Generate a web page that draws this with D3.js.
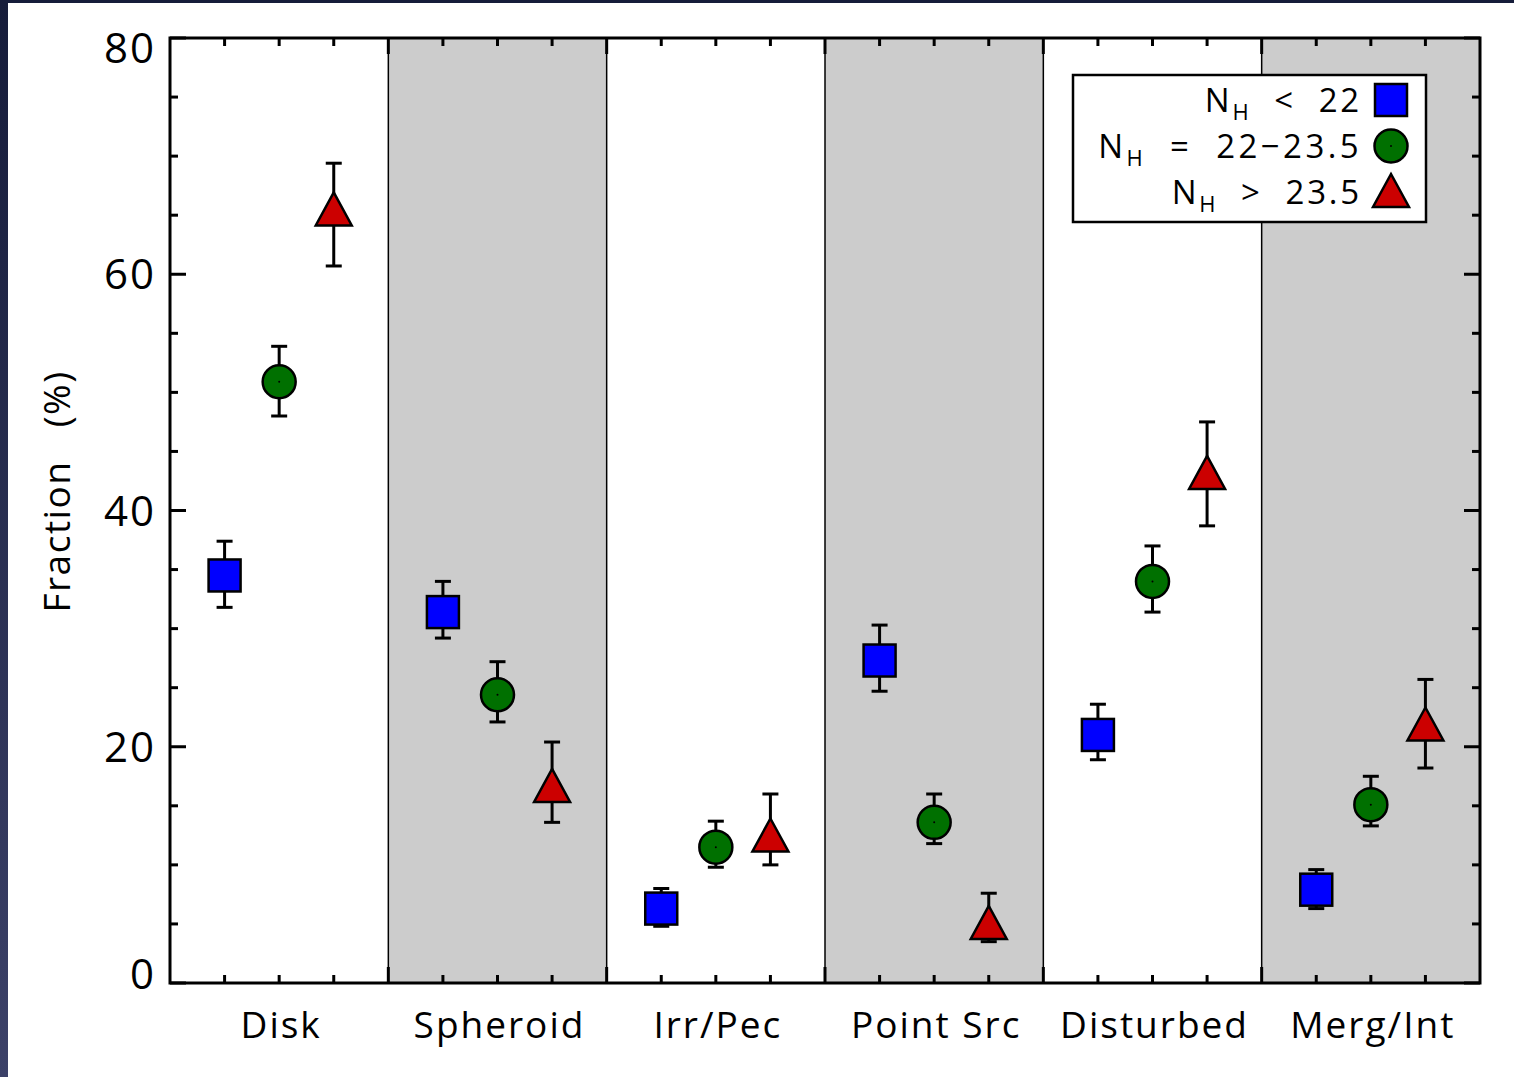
<!DOCTYPE html>
<html>
<head>
<meta charset="utf-8">
<script src="https://cdn.jsdelivr.net/npm/d3@7"></script>
<style>
  body { margin: 0; background: #fff; }
  svg text { font-family: "Open Sans", sans-serif; fill: #000; white-space: pre; }
</style>
</head>
<body>
<div id="chart"></div>
<script>
// categories and series (fraction in %, lower / upper error)
var categories = ['Disk', 'Spheroid', 'Irr/Pec', 'Point Src', 'Disturbed', 'Merg/Int'];
var lowNH  = [34.5, 31.4, 6.3, 27.3, 21.0, 7.9];
var lowLo  = [31.8, 29.2, 4.8, 24.7, 18.9, 6.3];
var lowHi  = [37.4, 34.0, 8.0, 30.3, 23.6, 9.6];
var midNH  = [50.9, 24.4, 11.5, 13.6, 34.0, 15.1];
var midLo  = [48.0, 22.1, 9.8, 11.8, 31.4, 13.3];
var midHi  = [53.9, 27.2, 13.7, 16.0, 37.0, 17.5];
var highNH = [65.4, 16.6, 12.4, 5.0, 43.1, 21.8];
var highLo = [60.7, 13.6, 10.0, 3.5, 38.7, 18.2];
var highHi = [69.4, 20.4, 16.0, 7.6, 47.5, 25.7];
var yTicks = [0, 20, 40, 60, 80];
var seriesLabels = ['<  22', '=  22\u221223.5', '>  23.5'];

var W = 1514, H = 1077;
var margin = {left: 170, right: 34, top: 38, bottom: 94};

var svg = d3.select('#chart').append('svg')
  .attr('width', W).attr('height', H);

// dark page edge on the left / top
var grad = svg.append('defs').append('linearGradient')
  .attr('id', 'edge').attr('x1', 0).attr('y1', 0).attr('x2', 0).attr('y2', 1);
grad.append('stop').attr('offset', '0%').attr('stop-color', '#161c3a');
grad.append('stop').attr('offset', '100%').attr('stop-color', '#3c4168');
svg.append('rect').attr('x', 0).attr('y', 0).attr('width', 8).attr('height', H).attr('fill', 'url(#edge)');
svg.append('rect').attr('x', 0).attr('y', 0).attr('width', W).attr('height', 3).attr('fill', '#161c3a');

var x = d3.scaleBand().domain(categories)
  .range([margin.left, W - margin.right]).padding(0);
var y = d3.scaleLinear().domain([0, 80])
  .range([H - margin.bottom, margin.top]);

var bw = x.bandwidth();

// grey shading for every other category
svg.selectAll('.band').data(categories).enter()
  .append('rect')
  .attr('x', function(d) { return x(d); })
  .attr('y', y(80))
  .attr('width', bw)
  .attr('height', y(0) - y(80))
  .attr('fill', function(d, i) { return i % 2 ? '#cccccc' : '#ffffff'; });

// vertical separators
svg.selectAll('.sep').data(categories.slice(1)).enter()
  .append('line')
  .attr('x1', function(d) { return x(d); })
  .attr('x2', function(d) { return x(d); })
  .attr('y1', y(80)).attr('y2', y(0))
  .attr('stroke', '#000').attr('stroke-width', 1.5);

// axes (ticks drawn inward, mirrored on top and right)
var yMinor = d3.range(0, 81, 5);
function yTickLines(xPos, dir) {
  svg.append('g').selectAll('line').data(yMinor).enter()
    .append('line')
    .attr('x1', xPos)
    .attr('x2', function(d) { return xPos + dir * (d % 20 ? 8 : 16); })
    .attr('y1', function(d) { return y(d); })
    .attr('y2', function(d) { return y(d); })
    .attr('stroke', '#000').attr('stroke-width', 3);
}
yTickLines(x.range()[0], 1);
yTickLines(x.range()[1], -1);

var xMinor = [];
categories.forEach(function(c, i) {
  [0.25, 0.5, 0.75].forEach(function(f) { xMinor.push({pos: x(c) + f * bw, major: false}); });
  if (i > 0) xMinor.push({pos: x(c), major: true});
});
function xTickLines(yPos, dir) {
  svg.append('g').selectAll('line').data(xMinor).enter()
    .append('line')
    .attr('x1', function(d) { return d.pos; })
    .attr('x2', function(d) { return d.pos; })
    .attr('y1', yPos)
    .attr('y2', function(d) { return yPos + dir * (d.major ? 16 : 8); })
    .attr('stroke', '#000').attr('stroke-width', 3);
}
xTickLines(y(0), -1);
xTickLines(y(80), 1);

svg.append('rect')
  .attr('x', x.range()[0]).attr('y', y(80))
  .attr('width', x.range()[1] - x.range()[0])
  .attr('height', y(0) - y(80))
  .attr('fill', 'none').attr('stroke', '#000').attr('stroke-width', 3);

// tick labels (kept inside the frame height like the original)
svg.selectAll('.ylab').data(yTicks).enter()
  .append('text')
  .attr('x', x.range()[0] - 14)
  .attr('y', function(d) {
    return Math.min(Math.max(y(d) + 15, y(80) + 25), y(0) + 6);
  })
  .attr('text-anchor', 'end')
  .style('font-size', '42px')
  .style('letter-spacing', '2px')
  .text(function(d) { return d; });

svg.selectAll('.xlab').data(categories).enter()
  .append('text')
  .attr('x', function(d) { return x(d) + bw / 2 + 2; })
  .attr('y', y(0) + 55)
  .attr('text-anchor', 'middle')
  .style('font-size', '37px')
  .style('letter-spacing', '2px')
  .text(function(d) { return d; });

svg.append('text')
  .attr('transform', 'translate(70,' + ((y(0) + y(80)) / 2 - 19) + ') rotate(-90)')
  .attr('text-anchor', 'middle')
  .style('font-size', '37px')
  .style('letter-spacing', '1.5px')
  .text('Fraction   (%)');

// points with error bars
var offsets = [0.25, 0.5, 0.75];
var series = [
  {v: lowNH, lo: lowLo, hi: lowHi, shape: 'square', color: '#0000ff'},
  {v: midNH, lo: midLo, hi: midHi, shape: 'circle', color: '#007000'},
  {v: highNH, lo: highLo, hi: highHi, shape: 'triangle', color: '#cc0000'}
];

function marker(sel, shape, color) {
  if (shape === 'square') {
    sel.append('rect').attr('x', -16).attr('y', -16).attr('width', 32).attr('height', 32);
  } else if (shape === 'circle') {
    sel.append('circle').attr('r', 16.5);
  } else {
    sel.append('path').attr('d', 'M0,-18L18,15L-18,15Z');
  }
  sel.selectAll('*').attr('fill', color).attr('stroke', '#000').attr('stroke-width', 2.5);
  if (shape === 'circle') {
    sel.append('circle').attr('r', 1).attr('fill', '#000');
  }
}

series.forEach(function(s, si) {
  var g = svg.append('g');
  var pts = categories.map(function(c, i) {
    return {cx: x(c) + offsets[si] * bw, v: s.v[i], lo: s.lo[i], hi: s.hi[i]};
  });
  pts.forEach(function(p) {
    g.append('line')
      .attr('x1', p.cx).attr('x2', p.cx)
      .attr('y1', y(p.lo)).attr('y2', y(p.hi))
      .attr('stroke', '#000').attr('stroke-width', 3);
    [p.lo, p.hi].forEach(function(e) {
      g.append('line')
        .attr('x1', p.cx - 8).attr('x2', p.cx + 8)
        .attr('y1', y(e)).attr('y2', y(e))
        .attr('stroke', '#000').attr('stroke-width', 3);
    });
    var m = g.append('g').attr('transform', 'translate(' + p.cx + ',' + y(p.v) + ')');
    marker(m, s.shape, s.color);
  });
});

// legend
var lg = svg.append('g').attr('transform', 'translate(1073,75)');
lg.append('rect').attr('width', 353).attr('height', 147)
  .attr('fill', '#fff').attr('stroke', '#000').attr('stroke-width', 2.5);
series.forEach(function(s, i) {
  var row = lg.append('g').attr('transform', 'translate(0,' + (25 + i * 46) + ')');
  var t = row.append('text')
    .attr('x', 289).attr('y', 12)
    .attr('text-anchor', 'end')
    .style('font-size', '33px')
    .style('letter-spacing', i === 1 ? '3.4px' : '2.8px');
  t.append('tspan').text('N');
  t.append('tspan').attr('dy', 8).style('font-size', '22px').text('H');
  t.append('tspan').attr('dy', -8).text('  ' + seriesLabels[i]);
  var m = row.append('g').attr('transform', 'translate(318,0)');
  marker(m, s.shape, s.color);
});
</script>
</body>
</html>
